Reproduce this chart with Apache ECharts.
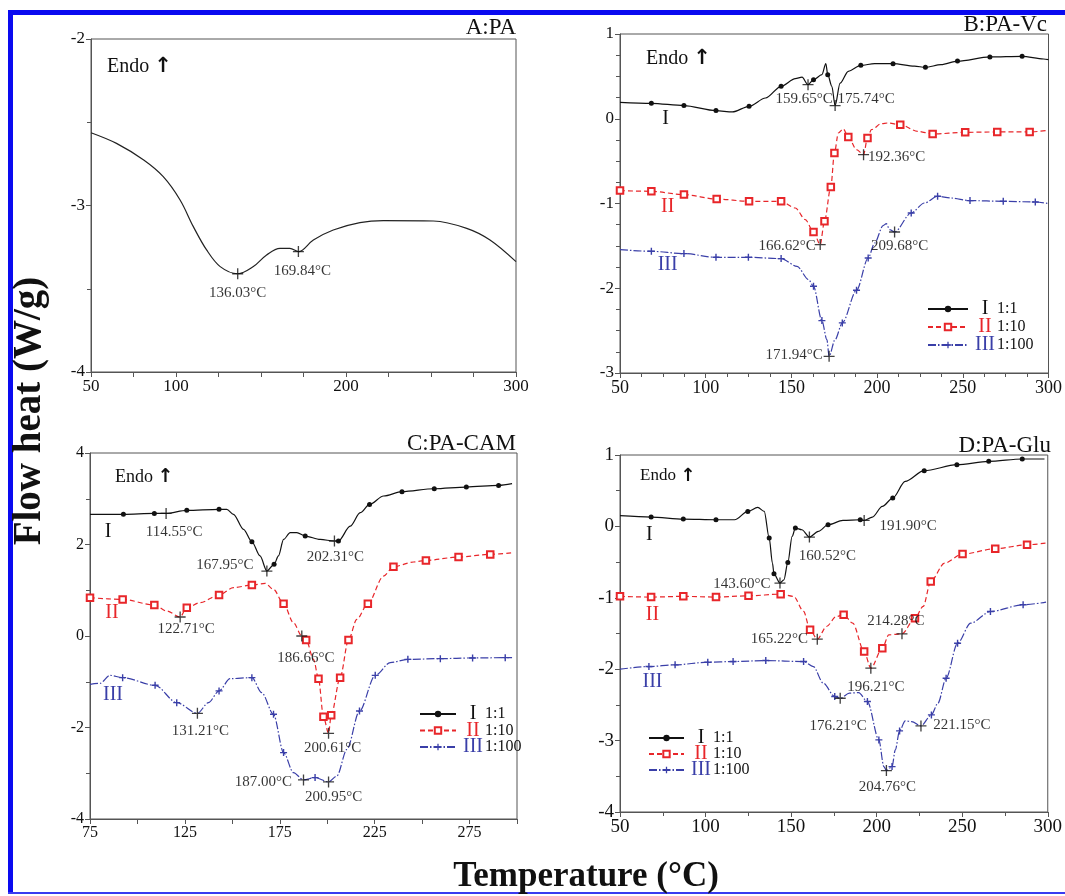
<!DOCTYPE html>
<html><head><meta charset="utf-8">
<script src="https://cdn.jsdelivr.net/npm/echarts@6/dist/echarts.min.js"></script>
<style>html,body{margin:0;padding:0;background:#fff}#c{width:1065px;height:896px}</style>
</head><body><div id="c"></div>
<script>
// ---------------- DATA ----------------
// Panel A : PA
const A_curve = [[50,-2.563],[65,-2.627],[81,-2.727],[92.5,-2.827],[102.4,-2.967],[110.2,-3.127],[118,-3.267],[126,-3.367],[145.5,-3.367],[153.3,-3.297],[161.2,-3.257],[167,-3.257],[180.8,-3.207],[192.5,-3.147],[208.2,-3.103],[222,-3.091],[251.4,-3.093],[271,-3.137],[284.7,-3.207],[300,-3.337]];
const A_peaks = [[136.3,-3.41,'136.03°C'],[172,-3.277,'169.84°C']];
const A_xTickLabels = [50,100,200,300];

// Panel B : PA-Vc
const B1_curve = [[50,0.194],[115.6,0.08],[134.9,0.245],[152.3,0.473],[156.2,0.49],[167.8,0.52],[170.1,0.65],[173.6,0.383],[178.4,0.42],[183.2,0.56],[198.6,0.65],[221.8,0.62],[237.3,0.638],[297.1,0.705],[300,0.697]];
const B1_marks = [[68.3,0.182],[87.3,0.155],[106,0.096],[125.3,0.147],[144,0.383],[162.9,0.461],[171.2,0.52],[190.5,0.63],[209.3,0.65],[228.2,0.607],[246.9,0.68],[265.8,0.729],[284.6,0.737]];
const B1_peaks = [[159.7,0.402,'159.65°C'],[175.5,0.155,'175.74°C']];
const B2_curve = [[152.3,-1.053],[158.1,-1.19],[177.4,-0.168],[180.3,-0.12],[188,-0.365],[196.7,-0.129],[202.5,-0.058],[206.4,-0.05],[223.7,-0.148],[300,-0.136]];
const B2_marks = [[50,-0.848],[68.3,-0.856],[87.3,-0.895],[106.4,-0.947],[125.3,-0.974],[144,-0.974],[162.9,-1.336],[169.3,-1.21],[173,-0.805],[175.1,-0.404],[183.2,-0.215],[194.4,-0.227],[213.5,-0.07],[232.4,-0.18],[251.4,-0.16],[270.1,-0.156],[289,-0.156]];
const B2_peaks = [[166.8,-1.485,'166.62°C'],[192.1,-0.424,'192.36°C']];
const B3_curve = [[50,-1.544],[153.3,-1.741],[160,-1.898],[170.7,-2.606],[175.5,-2.606],[198.6,-1.466],[203.5,-1.261],[205.4,-1.238],[207.3,-1.308],[227.6,-0.994],[243,-0.935],[300,-1.0]];
const B3_marks = [[68.3,-1.564],[87.3,-1.591],[106,-1.635],[124.9,-1.635],[144,-1.65],[162.9,-1.977],[167.8,-2.382],[179.7,-2.409],[188,-2.024],[194.8,-1.643],[219.9,-1.112],[235.3,-0.915],[254.2,-0.966],[273.6,-0.974],[292.3,-0.982]];
const B3_peaks = [[172,-2.803,'171.94°C'],[210.2,-1.336,'209.68°C']];

// Panel C : PA-CAM
const C1_curve = [[75,2.66],[147.1,2.768],[150.6,2.66],[155.9,2.33],[164.6,1.75],[174.3,1.75],[177,2.11],[180.5,2.26],[184,2.26],[196.3,2.11],[212.1,2.40],[217.4,2.695],[229.7,3.06],[297.4,3.33]];
const C1_marks = [[92.6,2.66],[108.9,2.68],[126,2.746],[143,2.768],[160.3,2.06],[172,1.566],[188.4,2.185],[205.9,2.076],[222.3,2.877],[239.4,3.154],[256.4,3.219],[273.3,3.256],[290.3,3.292]];
const C1_peaks = [[115.1,2.68,'114.55°C'],[168.2,1.42,'167.95°C'],[203.8,2.076,'202.31°C']];
const C2_curve = [[115.4,0.546],[133,0.728],[150.6,1.056],[167.3,1.15],[171.7,1.02],[182.2,0.29],[192.8,-0.51],[215.6,0.364],[229.7,1.31],[245.5,1.617],[297.4,1.82]];
const C2_marks = [[75,0.838],[92.2,0.80],[108.9,0.677],[126,0.62],[143,0.896],[160.3,1.114],[177,0.706],[188.9,-0.087],[195.4,-0.932],[198,-1.763],[202.1,-1.733],[206.8,-0.91],[211.2,-0.087],[221.4,0.706],[234.9,1.515],[252,1.653],[269.2,1.726],[285.9,1.784]];
const C2_peaks = [[122.5,0.415,'122.71°C'],[186.6,0,'186.66°C'],[200.7,-2.127,'200.61°C']];
const C3_curve = [[75,-1.056],[80.3,-1.034],[85.5,-0.86],[137.4,-1.457],[148.8,-0.932],[165.5,-1.238],[182.2,-2.986],[205.1,-3.059],[210.4,-2.476],[233.2,-0.583],[297.4,-0.473]];
const C3_marks = [[92.2,-0.91],[109.3,-1.078],[120.7,-1.457],[143,-1.2],[160.3,-0.91],[171.7,-1.712],[177,-2.549],[193.6,-3.095],[217,-1.639],[225.3,-0.86],[242.5,-0.51],[259.6,-0.495],[276.6,-0.48],[293.8,-0.473]];
const C3_peaks = [[131.6,-1.69,'131.21°C'],[187.5,-3.146,'187.00°C'],[200.7,-3.19,'200.95°C']];
const C_xTickLabels = [75,125,175,225,275];

// Panel D : PA-Glu
const D1_curve = [[50,0.15],[117,0.093],[130.5,0.266],[134.3,0.21],[139.1,-0.514],[145.8,-0.748],[150.6,-0.14],[156.3,-0.047],[165.9,-0.07],[180.3,0.084],[197.5,0.131],[203.3,0.28],[216.7,0.63],[298.1,0.944]];
const D1_marks = [[68.2,0.131],[87,0.103],[106.1,0.093],[124.7,0.21],[137.2,-0.164],[140,-0.664],[148.1,-0.505],[152.5,-0.023],[171.6,0.023],[190.4,0.093],[209.4,0.397],[227.8,0.78],[246.9,0.864],[265.5,0.911],[285.1,0.944]];
const D1_peaks = [[143.5,-0.794,'143.60°C'],[160.7,-0.15,'160.52°C'],[192.7,0.084,'191.90°C']];
const D2_curve = [[151.5,-0.98],[157.3,-1.19],[170.7,-1.402],[176.4,-1.262],[186,-1.355],[207.1,-1.519],[227.2,-1.121],[239.7,-0.514],[299,-0.234]];
const D2_marks = [[50,-0.98],[68.2,-0.99],[87,-0.98],[106.1,-0.99],[125.1,-0.972],[143.9,-0.949],[161.1,-1.449],[180.7,-1.238],[192.7,-1.752],[203.3,-1.706],[222.4,-1.285],[231.6,-0.771],[250.2,-0.388],[269.3,-0.313],[287.9,-0.257]];
const D2_peaks = [[165.3,-1.58,'165.22°C'],[196.6,-1.986,'196.21°C'],[214.8,-1.505,'214.28°C']];
const D3_curve = [[50,-2.0],[163,-1.963],[168.8,-2.196],[184.1,-2.336],[189.5,-2.327],[204.2,-3.364],[210.9,-3.13],[216.7,-2.724],[220.5,-2.734],[235.8,-2.477],[255,-1.355],[299,-1.061]];
const D3_marks = [[66.9,-1.963],[82.2,-1.939],[101.3,-1.902],[116.1,-1.893],[135.2,-1.879],[157.3,-1.893],[175.5,-2.383],[194.6,-2.453],[201.3,-2.99],[209,-3.364],[213.4,-2.864],[232,-2.64],[240.6,-2.126],[247.3,-1.636],[266.5,-1.192],[285.6,-1.098]];
const D3_peaks = [[178.7,-2.407,'176.21°C'],[205.7,-3.42,'204.76°C'],[225.9,-2.794,'221.15°C']];

const seriesNames = ['I 1:1','II 1:10','III 1:100'];
const panelTitles = ['A:PA','B:PA-Vc','C:PA-CAM','D:PA-Glu'];
// roman curve tags, anchored in data coordinates [x, y]
const romanTags = {
  1: [[76.6,0.0],[77.8,-1.035],[77.8,-1.72]],
  2: [[84.5,2.27],[86.6,0.5],[87.1,-1.29]],
  3: [[67.2,-0.12],[69,-1.24],[69,-2.18]]
};

// ---------------- LAYOUT / STYLE ----------------
const FONT = '"Liberation Serif","Times New Roman",serif';
const COLORS = ['#111111','#e8262a','#3a3fa8'];
const ROMAN = ['I','II','III'];
const PLUS = 'path://M4,0H6V4H10V6H6V10H4V6H0V4H4Z';
const THINPLUS = 'path://M4.4,0H5.6V4.4H10V5.6H5.6V10H4.4V5.6H0V4.4H4.4Z';
const grids = [
  {left:91, top:39, width:425, height:333},
  {left:620, top:34, width:432, height:339},
  {left:90, top:453, width:427, height:366},
  {left:620, top:455, width:435, height:357}
];
const labelOffsets = {
  A: [[0,19],[4,19]],
  B1: [[-4,14],[31,-7]], B2: [[-33,1],[33,2]], B3: [[-35,-1],[5,14]],
  C1: [[8,19],[-42,-6],[1,16]], C2: [[6,12],[4,22],[4,15]], C3: [[3,18],[-40,2],[5,15]],
  D1: [[-38,1],[18,19],[44,6]], D2: [[-38,0],[5,19],[-6,-13]], D3: [[-2,28],[1,16],[41,-1]]
};

function buildLine(curve, marks, peaks){
  const items = [];
  curve.forEach(p => items.push({value:[p[0],p[1]], symbol:'none'}));
  (marks||[]).forEach(p => items.push({value:[p[0],p[1]]}));
  peaks.forEach(p => items.push({value:[p[0],p[1]], symbol:'none'}));
  items.sort((a,b)=>a.value[0]-b.value[0]);
  return items;
}
const lineTypes = ['solid',[5,3],[8,2,1.5,2]];
const symbols = ['circle','emptyRect',PLUS];
const symbolSizes = [5,6.5,7];

function lineSeries(g, k, curve, marks, peaks){
  return {
    type:'line', name: seriesNames[k], xAxisIndex:g, yAxisIndex:g,
    data: buildLine(curve, marks, peaks),
    smooth:0.3, smoothMonotone:'x',
    symbol: symbols[k], symbolSize: symbolSizes[k], showAllSymbol:true,
    lineStyle:{color:COLORS[k], width:1.2, type: lineTypes[k]},
    itemStyle:{color:COLORS[k], borderWidth: k===1?1.2:0},
    emphasis:{disabled:true}, silent:true, z:3
  };
}
function peakSeries(g, peaks, offs){
  return {
    type:'scatter', xAxisIndex:g, yAxisIndex:g,
    data: peaks.map((p,i)=>({value:p, label:{offset:offs[i]}})),
    symbol: THINPLUS, symbolSize:11, itemStyle:{color:'#111'},
    label:{show:true, position:'inside', formatter: p=>p.value[2], fontFamily:FONT, fontSize:15, color:'#000', textBorderWidth:0},
    emphasis:{disabled:true}, silent:true, z:5
  };
}
const axisCommon = {
  type:'value',
  axisLine:{show:true, onZero:false, lineStyle:{color:'#555', width:1}},
  axisTick:{show:true, inside:false, length:5, lineStyle:{color:'#555'}},
  minorTick:{show:false},
  splitLine:{show:false}, minorSplitLine:{show:false},
  axisLabel:{fontFamily:FONT, fontSize:17, color:'#111', margin:6}
};
function ax(extra){
  const o = JSON.parse(JSON.stringify(axisCommon));
  Object.keys(extra).forEach(k=>{
    if (typeof extra[k]==='object' && !Array.isArray(extra[k]) && o[k]) Object.assign(o[k], extra[k]);
    else o[k]=extra[k];
  });
  return o;
}
const xAxes = [
  ax({gridIndex:0, min:50, max:300, interval:25, axisLabel:{formatter:v=>A_xTickLabels.includes(v)?String(v):''}}),
  ax({gridIndex:1, min:50, max:300, interval:50, minorTick:{show:true, splitNumber:4, length:4, lineStyle:{color:'#555'}}, axisLabel:{fontSize:18}}),
  ax({gridIndex:2, min:75, max:300, interval:25, axisLabel:{fontSize:16, formatter:v=>C_xTickLabels.includes(v)?String(v):''}}),
  ax({gridIndex:3, min:50, max:300, interval:50, minorTick:{show:true, splitNumber:2, length:4, lineStyle:{color:'#555'}}, axisLabel:{fontSize:19}})
];
const yAxes = [
  ax({gridIndex:0, min:-4, max:-2, interval:1, minorTick:{show:true, splitNumber:2, length:4, lineStyle:{color:'#555'}}}),
  ax({gridIndex:1, min:-3, max:1, interval:1, minorTick:{show:true, splitNumber:4, length:4, lineStyle:{color:'#555'}}}),
  ax({gridIndex:2, min:-4, max:4, interval:2, minorTick:{show:true, splitNumber:2, length:4, lineStyle:{color:'#555'}}, axisLabel:{fontSize:16}}),
  ax({gridIndex:3, min:-4, max:1, interval:1, minorTick:{show:true, splitNumber:2, length:4, lineStyle:{color:'#555'}}, axisLabel:{fontSize:19}})
];

const series = [
  {type:'line', name:'PA', xAxisIndex:0, yAxisIndex:0, data: buildLine(A_curve, [], A_peaks),
   smooth:0.35, symbol:'none', lineStyle:{color:'#222', width:1.2}, silent:true},
  peakSeries(0, A_peaks, labelOffsets.A),
  lineSeries(1,0,B1_curve,B1_marks,B1_peaks), lineSeries(1,1,B2_curve,B2_marks,B2_peaks), lineSeries(1,2,B3_curve,B3_marks,B3_peaks),
  peakSeries(1,B1_peaks,labelOffsets.B1), peakSeries(1,B2_peaks,labelOffsets.B2), peakSeries(1,B3_peaks,labelOffsets.B3),
  lineSeries(2,0,C1_curve,C1_marks,C1_peaks), lineSeries(2,1,C2_curve,C2_marks,C2_peaks), lineSeries(2,2,C3_curve,C3_marks,C3_peaks),
  peakSeries(2,C1_peaks,labelOffsets.C1), peakSeries(2,C2_peaks,labelOffsets.C2), peakSeries(2,C3_peaks,labelOffsets.C3),
  lineSeries(3,0,D1_curve,D1_marks,D1_peaks), lineSeries(3,1,D2_curve,D2_marks,D2_peaks), lineSeries(3,2,D3_curve,D3_marks,D3_peaks),
  peakSeries(3,D1_peaks,labelOffsets.D1), peakSeries(3,D2_peaks,labelOffsets.D2), peakSeries(3,D3_peaks,labelOffsets.D3)
];

function legend(left, top, width, gap){
  const rs = c => ({fontFamily:FONT, fontSize:20, color:c, width:24, align:'center', lineHeight:14, height:14});
  return {
    data: seriesNames, orient:'vertical', left, top, padding:0, itemWidth:width, itemHeight:8, itemGap:gap,
    selectedMode:false,
    formatter: n => { const i = seriesNames.indexOf(n); const [r, ratio] = n.split(' '); return `{r${i}|${r}}{t|${ratio}}`; },
    textStyle:{ fontFamily:FONT, fontSize:16, lineHeight:14, color:'#111', rich:{
      r0:rs(COLORS[0]), r1:rs(COLORS[1]), r2:rs(COLORS[2]),
      t:{fontFamily:FONT, fontSize:16, color:'#111', lineHeight:14, height:14}
    }}
  };
}

const chart = echarts.init(document.getElementById('c'), null, {renderer:'canvas'});
chart.setOption({
  animation:false,
  backgroundColor:'#fff',
  grid: grids.map(g=>Object.assign({show:true, borderColor:'#555', borderWidth:1, backgroundColor:'rgba(0,0,0,0)', containLabel:false}, g)),
  xAxis: xAxes, yAxis: yAxes,
  legend: [legend(927, 299, 40, -2), legend(419, 704, 36, -3.5), legend(648, 728, 35, -4)],
  series
});

// ---------- text annotations ----------
const g = [];
// blue frame
g.push({type:'rect', shape:{x:8,y:10,width:1057,height:5}, style:{fill:'#0a0af0'}, silent:true});
g.push({type:'rect', shape:{x:8,y:10,width:5,height:884}, style:{fill:'#0a0af0'}, silent:true});
g.push({type:'rect', shape:{x:8,y:892,width:1057,height:2}, style:{fill:'#3a3af0'}, silent:true});
// panel titles (right aligned)
const titlePos = [[516,28],[1047,25],[516,444],[1051,446]];
panelTitles.forEach((t,i)=>g.push({type:'text', x:titlePos[i][0], y:titlePos[i][1],
  style:{text:t, font:`23px ${FONT}`, fill:'#111', textAlign:'right', textVerticalAlign:'middle', align:'right', verticalAlign:'middle'}}));
// Endo arrows
const endoPos = [[107,67,20],[646,59,20],[115,477,18],[640,476,17]];
endoPos.forEach(p=>g.push({type:'text', x:p[0], y:p[1],
  style:{text:'Endo {a|↑}', font:`${p[2]}px ${FONT}`, fill:'#111', textVerticalAlign:'middle', verticalAlign:'middle',
    rich:{a:{fontFamily:'"DejaVu Sans",sans-serif', fontWeight:'bold', fontSize:p[2]+1, fill:'#111'}}}}));
// axis titles
g.push({type:'text', x:30, y:411, rotation:Math.PI/2,
  style:{text:'Flow heat (W/g)', font:`bold 39px ${FONT}`, fill:'#111', textAlign:'center', textVerticalAlign:'middle', align:'center', verticalAlign:'middle'}});
g.push({type:'text', x:586, y:877,
  style:{text:'Temperature (°C)', font:`bold 35px ${FONT}`, fill:'#111', textAlign:'center', textVerticalAlign:'middle', align:'center', verticalAlign:'middle'}});
// roman curve tags
Object.keys(romanTags).forEach(gi=>{
  romanTags[gi].forEach((p,k)=>{
    const px = chart.convertToPixel({gridIndex:+gi}, p);
    g.push({type:'text', x:px[0], y:px[1],
      style:{text:ROMAN[k], font:`20px ${FONT}`, fill:COLORS[k], textAlign:'center', textVerticalAlign:'middle', align:'center', verticalAlign:'middle'}});
  });
});
chart.setOption({graphic: g});
</script></body></html>
